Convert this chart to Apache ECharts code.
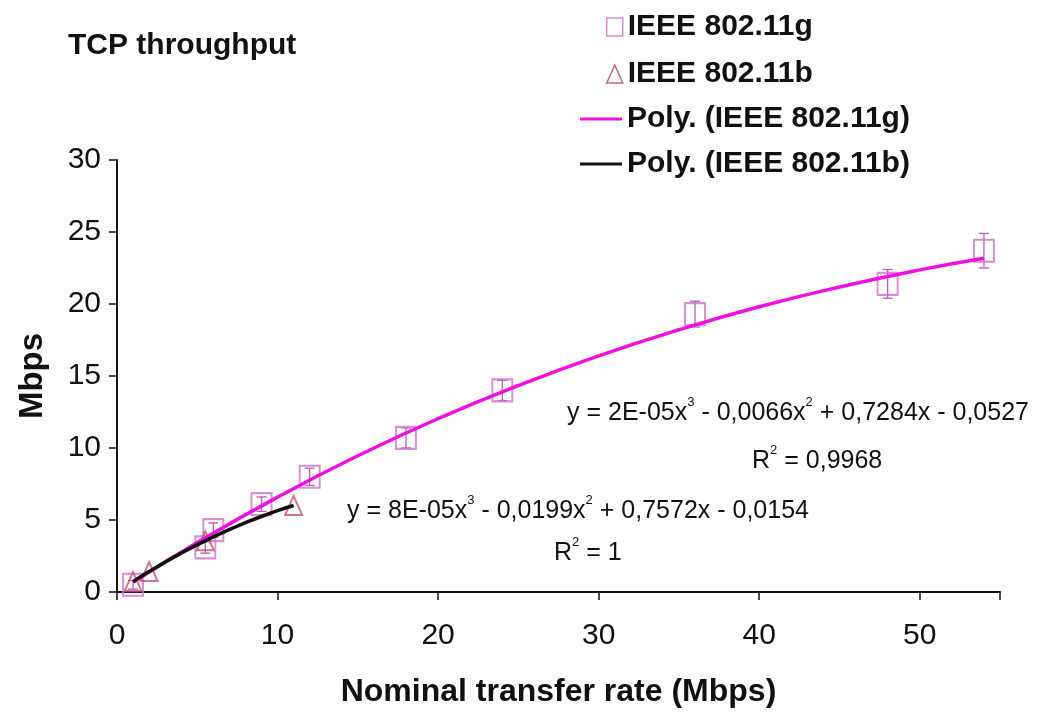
<!DOCTYPE html>
<html>
<head>
<meta charset="utf-8">
<script src="https://cdn.jsdelivr.net/npm/echarts@6/dist/echarts.min.js"></script>
<style>
html,body{margin:0;padding:0;background:#fff;}
#c{width:1056px;height:719px;}
</style>
</head>
<body>
<div id="c"></div>
<script>
// --- data ---
const gX = [1, 5.5, 6, 9, 12, 18, 24, 36, 48, 54];
const gY = [0.5, 3.1, 4.3, 6.1, 8.0, 10.7, 14.0, 19.3, 21.4, 23.7];
const gErr = [0.3, 0.4, 0.5, 0.5, 0.6, 0.7, 0.7, 0.9, 1.0, 1.2];
const bX = [1, 2, 5.5, 11];
const bY = [0.72, 1.42, 3.56, 6.01];
// trend curves
const gTrendX = [1, 5, 10, 15, 20, 25, 30, 35, 40, 45, 50, 54];
const gTrendY = [0.68, 3.43, 6.59, 9.46, 12.04, 14.34, 16.40, 18.21, 19.81, 21.18, 22.37, 23.18];
const bTrendX = [1, 2, 4, 6, 8, 10, 11];
const bTrendY = [0.72, 1.42, 2.70, 3.83, 4.81, 5.65, 6.01];
const xTicks = [0, 10, 20, 30, 40, 50];
const yTicks = [0, 5, 10, 15, 20, 25, 30];
const names = ['IEEE 802.11g', 'IEEE 802.11b', 'Poly. (IEEE 802.11g)', 'Poly. (IEEE 802.11b)'];
const eqG = ['y = 2E-05x', '3', ' - 0,0066x', '2', ' + 0,7284x - 0,0527'];
const r2G = ['R', '2', ' = 0,9968'];
const eqB = ['y = 8E-05x', '3', ' - 0,0199x', '2', ' + 0,7572x - 0,0154'];
const r2B = ['R', '2', ' = 1'];

const FONT = '"Liberation Sans Narrow", "Arial Narrow", "Liberation Sans", Arial, sans-serif';
const zip = (xs, ys) => xs.map((x, i) => [x, ys[i]]);

const chart = echarts.init(document.getElementById('c'));
function rich(parts) {
  let s = '';
  parts.forEach((p, i) => { s += (i % 2 === 1) ? `{s|${p}}` : `{n|${p}}`; });
  return s;
}
const eqStyle = {
  fill: '#111',
  rich: {
    n: { fontFamily: FONT, fontSize: 25, color: '#111', verticalAlign: 'bottom', lineHeight: 30 },
    s: { fontFamily: FONT, fontSize: 13, color: '#111', verticalAlign: 'top', lineHeight: 30 }
  }
};
const legendText = { fontFamily: FONT, fontSize: 30, fontWeight: 'bold', color: '#111' };
chart.setOption({
  animation: false,
  backgroundColor: '#fff',
  title: {
    text: 'TCP throughput', left: 63, top: 26,
    textStyle: { fontFamily: FONT, fontSize: 30, fontWeight: 'bold', color: '#111' }
  },
  legend: [
    {
      orient: 'vertical', left: 601, top: 7, itemGap: 17, itemWidth: 16, itemHeight: 18,
      textStyle: legendText,
      data: [
        { name: names[0], icon: 'rect', itemStyle: { color: 'transparent', borderColor: '#d070c8', borderWidth: 1.5 } },
        { name: names[1], icon: 'triangle', itemStyle: { color: 'transparent', borderColor: '#b04058', borderWidth: 1.5 } }
      ]
    },
    {
      orient: 'vertical', left: 575, top: 99, itemGap: 15, itemWidth: 42, itemHeight: 3,
      textStyle: legendText,
      data: [
        { name: names[2], icon: 'rect' },
        { name: names[3], icon: 'rect' }
      ]
    }
  ],
  grid: { left: 117, right: 56, top: 160, bottom: 127 },
  xAxis: {
    type: 'value', min: 0, max: 55, interval: 10,
    name: 'Nominal transfer rate (Mbps)', nameLocation: 'middle', nameGap: 84,
    nameTextStyle: { fontFamily: FONT, fontSize: 32, fontWeight: 'bold', color: '#111' },
    axisLine: { lineStyle: { color: '#111', width: 2 } },
    axisTick: { show: true, length: 8, lineStyle: { color: '#111', width: 1.5 } },
    axisLabel: { fontFamily: FONT, fontSize: 30, color: '#111', margin: 29,
      formatter: v => xTicks.includes(v) ? String(v) : '' },
    splitLine: { show: false }
  },
  yAxis: {
    type: 'value', min: 0, max: 30, interval: 5,
    name: 'Mbps', nameLocation: 'middle', nameGap: 68, nameRotate: 90,
    nameTextStyle: { fontFamily: FONT, fontSize: 33, fontWeight: 'bold', color: '#111' },
    axisLine: { show: true, lineStyle: { color: '#111', width: 2 } },
    axisTick: { show: true, length: 8, lineStyle: { color: '#111', width: 1.5 } },
    axisLabel: { fontFamily: FONT, fontSize: 30, color: '#111', margin: 16,
      formatter: v => yTicks.includes(v) ? String(v) : '' },
    splitLine: { show: false }
  },
  series: [
    {
      name: names[2], type: 'line', data: zip(gTrendX, gTrendY), smooth: true,
      showSymbol: false, symbol: 'none', z: 3,
      lineStyle: { color: '#ee10e0', width: 3.5 }, itemStyle: { color: '#ee10e0' }
    },
    {
      name: names[3], type: 'line', data: zip(bTrendX, bTrendY), smooth: true,
      showSymbol: false, symbol: 'none', z: 4,
      lineStyle: { color: '#111', width: 3.5 }, itemStyle: { color: '#111' }
    },
    {
      name: 'err', type: 'custom', z: 2,
      data: gX.map((x, i) => [x, gY[i] - gErr[i], gY[i] + gErr[i]]),
      renderItem: (params, api) => {
        const lo = api.coord([api.value(0), api.value(1)]);
        const hi = api.coord([api.value(0), api.value(2)]);
        const w = 5;
        const st = { stroke: '#b060b0', lineWidth: 1.3 };
        return { type: 'group', children: [
          { type: 'line', shape: { x1: lo[0], y1: lo[1], x2: hi[0], y2: hi[1] }, style: st },
          { type: 'line', shape: { x1: lo[0] - w, y1: lo[1], x2: lo[0] + w, y2: lo[1] }, style: st },
          { type: 'line', shape: { x1: hi[0] - w, y1: hi[1], x2: hi[0] + w, y2: hi[1] }, style: st }
        ]};
      }
    },
    {
      name: names[0], type: 'scatter', data: zip(gX, gY), symbol: 'rect', symbolSize: [20, 22], z: 2,
      itemStyle: { color: 'rgba(0,0,0,0)', borderColor: '#d070c8', borderWidth: 2 }
    },
    {
      name: names[1], type: 'scatter', data: zip(bX, bY), symbol: 'triangle', symbolSize: [17, 19], z: 2,
      itemStyle: { color: 'rgba(0,0,0,0)', borderColor: '#c05070', borderWidth: 2 }
    }
  ],
  graphic: [
    { type: 'text', left: 567, top: 396, style: Object.assign({ text: rich(eqG) }, eqStyle) },
    { type: 'text', left: 752, top: 444, style: Object.assign({ text: rich(r2G) }, eqStyle) },
    { type: 'text', left: 347, top: 494, style: Object.assign({ text: rich(eqB) }, eqStyle) },
    { type: 'text', left: 554, top: 536, style: Object.assign({ text: rich(r2B) }, eqStyle) }
  ]
});
</script>
</body>
</html>
